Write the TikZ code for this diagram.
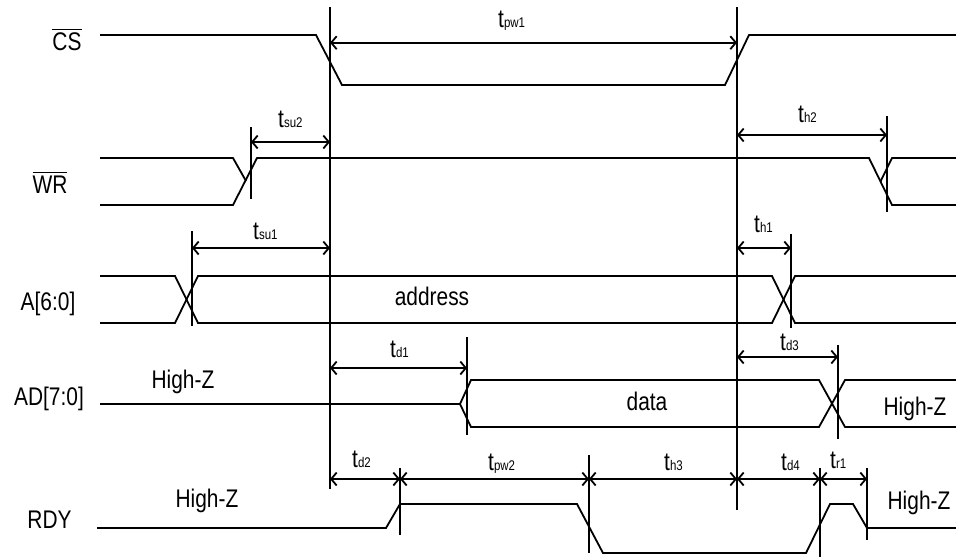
\documentclass[tikz,border=0pt]{standalone}
\usepackage{fontspec}
\setmainfont{Liberation Sans}[FakeStretch=0.82]
\usetikzlibrary{arrows.meta}
\newcommand{\ovl}[1]{\leavevmode\vbox{\hrule height 1.4pt \kern 2.2pt \hbox{#1}}}
\newcommand{\tlab}[1]{t{\fontsize{14}{15}\selectfont\raisebox{-0.5pt}{#1}}}
\begin{document}
\begin{tikzpicture}[x=1pt,y=-1pt,
  sig/.style={line width=1.8pt, line join=miter},
  markline/.style={line width=1.8pt},
  dim/.style={line width=1.8pt, {Straight Barb[length=5.5pt,width=13pt]}-{Straight Barb[length=5.5pt,width=13pt]}},
  lab/.style={inner sep=0pt, anchor=base, font=\fontsize{25.5}{28}\selectfont},
  tl/.style={inner sep=0pt, anchor=base west, font=\fontsize{25.5}{28}\selectfont}]
\useasboundingbox (0,0) rectangle (956,558);

% signal names
\node[lab] (ncs) at (67,50) {\ovl{CS}};
\node[lab] (nwr) at (50,193) {\ovl{WR}};
\node[lab] (na) at (48,310) {A[6:0]};
\node[lab] (nad) at (49,405) {AD[7:0]};
\node[lab] (nrdy) at (49.5,528) {RDY};

% waveforms
\draw[sig] (100,35) -- (316,35) -- (342,85) -- (725,85) -- (749,35) -- (956,35);
\draw[sig] (100,158) -- (233,158) -- (246,181);
\draw[sig] (100,205) -- (233,205) -- (257,158) -- (869,158) -- (892,205) -- (956,205);
\draw[sig] (880.5,181.5) -- (892,158) -- (956,158);
\draw[sig] (100,276) -- (175,276) -- (198,323) -- (772,323) -- (795,276) -- (956,276);
\draw[sig] (100,323) -- (175,323) -- (198,276) -- (772,276) -- (795,323) -- (956,323);
\draw[sig] (100,404) -- (460,404) -- (471,380) -- (819,380) -- (845,427) -- (956,427);
\draw[sig] (460,404) -- (471,427) -- (819,427) -- (845,380) -- (956,380);
\draw[sig] (97,528) -- (386,528) -- (400,504) -- (577,504) -- (603,553) -- (806,553) -- (830,504) -- (853,504) -- (867,528) -- (956,528);

% in-wave texts
\node[lab] (taddr) at (432,305) {address};
\node[lab] (tdata) at (647,410) {data};
\node[lab] (thz1) at (183,388) {High-Z};
\node[lab] (thz2) at (915,415) {High-Z};
\node[lab] (thz3) at (207,507) {High-Z};
\node[lab] (thz4) at (919,509) {High-Z};

% reference marker lines
\coordinate (v1t) at (330,7);   \coordinate (v1b) at (330,489);
\coordinate (v2t) at (737,7);   \coordinate (v2b) at (737,510);
\coordinate (msu2t) at (251,127); \coordinate (msu2b) at (251,199);
\coordinate (mh2t) at (887,116);  \coordinate (mh2b) at (887,212);
\coordinate (msu1t) at (192,231); \coordinate (msu1b) at (192,326);
\coordinate (mh1t) at (791,234);  \coordinate (mh1b) at (791,328);
\coordinate (md1t) at (467,337);  \coordinate (md1b) at (467,435);
\coordinate (md3t) at (838,345);  \coordinate (md3b) at (838,439);
\coordinate (md2t) at (400,468);  \coordinate (md2b) at (400,535);
\coordinate (mpw2t) at (589,455); \coordinate (mpw2b) at (589,553);
\coordinate (md4t) at (820,468);  \coordinate (md4b) at (820,557);
\coordinate (mr1t) at (867,468);  \coordinate (mr1b) at (867,540);
\foreach \a in {v1,v2,msu2,mh2,msu1,mh1,md1,md3,md2,mpw2,md4,mr1}
  \draw[markline] (\a t) -- (\a b);

% dimension arrows
\draw[dim] (v1t |- 0,42.7) -- (v2t |- 0,42.7);
\draw[dim] (msu2t |- 0,142) -- (v1t |- 0,142);
\draw[dim] (v2t |- 0,135) -- (mh2t |- 0,135);
\draw[dim] (msu1t |- 0,248) -- (v1t |- 0,248);
\draw[dim] (v2t |- 0,248) -- (mh1t |- 0,248);
\draw[dim] (v1t |- 0,368) -- (md1t |- 0,368);
\draw[dim] (v2t |- 0,357) -- (md3t |- 0,357);
\draw[dim] (v1t |- 0,479) -- (md2t |- 0,479);
\draw[dim] (md2t |- 0,479) -- (mpw2t |- 0,479);
\draw[dim] (mpw2t |- 0,479) -- (v2t |- 0,479);
\draw[dim] (v2t |- 0,479) -- (md4t |- 0,479);
\draw[dim] (md4t |- 0,479) -- (mr1t |- 0,479);

% timing labels
\node[tl] (lpw1) at (498,27) {\tlab{pw1}};
\node[tl] (lsu2) at (278,127) {\tlab{su2}};
\node[tl] (lh2) at (798,122) {\tlab{h2}};
\node[tl] (lsu1) at (253,239) {\tlab{su1}};
\node[tl] (lh1) at (754,232) {\tlab{h1}};
\node[tl] (ld1) at (390,357) {\tlab{d1}};
\node[tl] (ld3) at (780,350) {\tlab{d3}};
\node[tl] (ld2) at (352,467) {\tlab{d2}};
\node[tl] (lpw2) at (488,470) {\tlab{pw2}};
\node[tl] (lh3) at (664,470) {\tlab{h3}};
\node[tl] (ld4) at (781,470) {\tlab{d4}};
\node[tl] (lr1) at (830,468) {\tlab{r1}};
\end{tikzpicture}
\end{document}
